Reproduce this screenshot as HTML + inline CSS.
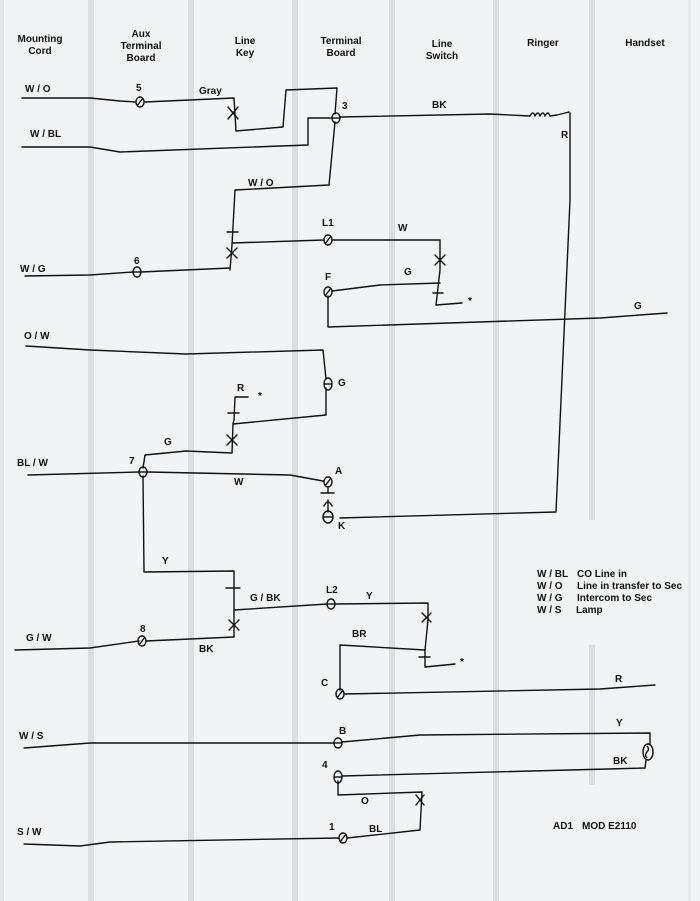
<!DOCTYPE html>
<html><head><meta charset="utf-8"><style>
html,body{margin:0;padding:0;background:#f1f3f4;}
svg{display:block}
text{font-family:"Liberation Sans",sans-serif;font-size:10px;font-weight:bold;fill:#111;}
.w{fill:none;stroke:#111;stroke-width:1.4;stroke-linejoin:round;stroke-linecap:round}
.t{fill:none;stroke:#111;stroke-width:1.4}
</style></head><body>
<svg width="700" height="901" viewBox="0 0 700 901" xmlns="http://www.w3.org/2000/svg">
<rect width="700" height="901" fill="#f1f3f4"/>
<rect x="0" y="0" width="4" height="901" fill="#e2e4e5"/>
<g fill="#dcdedf">
<rect x="88" y="0" width="6" height="901"/>
<rect x="188" y="0" width="6" height="901"/>
<rect x="292" y="0" width="6" height="901"/>
<rect x="389" y="0" width="6" height="901"/>
<rect x="493" y="0" width="6" height="901"/>
<rect x="589" y="0" width="6" height="520"/>
<rect x="589" y="645" width="6" height="140"/>
</g>
<rect x="688" y="0" width="3" height="901" fill="#e6e8e9"/>

<!-- headers -->
<g text-anchor="middle">
<text x="40" y="42">Mounting</text><text x="40" y="54">Cord</text>
<text x="141" y="37">Aux</text><text x="141" y="49">Terminal</text><text x="141" y="61">Board</text>
<text x="245" y="44">Line</text><text x="245" y="56">Key</text>
<text x="341" y="44">Terminal</text><text x="341" y="56">Board</text>
<text x="442" y="47">Line</text><text x="442" y="59">Switch</text>
<text x="543" y="46">Ringer</text>
<text x="645" y="46">Handset</text>
</g>

<!-- wire labels -->
<text x="25" y="92">W / O</text>
<text x="30" y="137">W / BL</text>
<text x="20" y="272">W / G</text>
<text x="24" y="339">O / W</text>
<text x="17" y="466">BL / W</text>
<text x="26" y="641">G / W</text>
<text x="19" y="739">W / S</text>
<text x="17" y="835">S / W</text>

<text x="136" y="91">5</text>
<text x="199" y="94">Gray</text>
<text x="342" y="109">3</text>
<text x="432" y="108">BK</text>
<text x="561" y="138">R</text>
<text x="248" y="186">W / O</text>
<text x="322" y="226">L1</text>
<text x="398" y="231">W</text>
<text x="134" y="264">6</text>
<text x="325" y="280">F</text>
<text x="404" y="275">G</text>
<text x="468" y="304">*</text>
<text x="634" y="309">G</text>
<text x="338" y="386">G</text>
<text x="237" y="391">R</text>
<text x="258" y="399">*</text>
<text x="164" y="445">G</text>
<text x="129" y="464">7</text>
<text x="335" y="474">A</text>
<text x="234" y="485">W</text>
<text x="338" y="529">K</text>
<text x="162" y="564">Y</text>
<text x="250" y="601">G / BK</text>
<text x="326" y="593">L2</text>
<text x="366" y="599">Y</text>
<text x="140" y="632">8</text>
<text x="199" y="652">BK</text>
<text x="352" y="637">BR</text>
<text x="460" y="665">*</text>
<text x="321" y="686">C</text>
<text x="615" y="682">R</text>
<text x="339" y="734">B</text>
<text x="616" y="726">Y</text>
<text x="613" y="764">BK</text>
<text x="322" y="768">4</text>
<text x="361" y="804">O</text>
<text x="329" y="830">1</text>
<text x="369" y="832">BL</text>

<!-- legend -->
<text x="537" y="577">W / BL</text><text x="577" y="577">CO Line in</text>
<text x="537" y="589">W / O</text><text x="577" y="589">Line in transfer to Sec</text>
<text x="537" y="601">W / G</text><text x="577" y="601">Intercom to Sec</text>
<text x="537" y="613">W / S</text><text x="576" y="613">Lamp</text>
<text x="553" y="829">AD1</text><text x="582" y="829">MOD E2110</text>

<!-- wires -->
<g class="w">
<polyline points="22,98 90,98 120,101 136,102"/>
<polyline points="145,102 234,98 236,131 283,127 286,90 337,88 335,114"/>
<polyline points="22,147 90,147 120,152 308,145 308,118 332,118"/>
<polyline points="340,117 490,114 530,116"/>
<path d="M530,116 q3,-6 5,0 q3,-6 5,0 q3,-6 5,0 q3,-6 5,0 l7,-1 l12,-3"/>
<polyline points="570,113 570,200 556,512 340,518"/>
<polyline points="335,122 329,185 235,190 232,245 230,270"/>
<polyline points="25,276 90,275 133,272"/>
<polyline points="141,272 230,268"/>
<polyline points="232,243 324,240"/>
<polyline points="332,240 440,240 440,270 436,305 462,303"/>
<polyline points="332,291 380,285 440,283"/>
<polyline points="328,296 328,327 600,318 667,313"/>
<polyline points="26,346 90,350 186,354 323,350 326,379"/>
<polyline points="326,388 326,415 233,424 232,453 186,451 145,455 143,468"/>
<polyline points="233,424 234,420 235,397 248,397"/>
<polyline points="28,475 139,472"/>
<polyline points="148,472 290,475 323,481"/>
<polyline points="143,476 144,572 234,571 234,637"/>
<polyline points="15,650 90,648 139,641"/>
<polyline points="146,641 234,637"/>
<polyline points="234,610 327,604"/>
<polyline points="335,604 428,603 428,620 425,650 425,667 455,664"/>
<polyline points="425,650 340,645 340,690"/>
<polyline points="344,694 600,689 655,685"/>
<polyline points="24,748 90,743 334,743"/>
<polyline points="342,742 420,735 650,733 650,745"/>
<polyline points="646,760 645,768 342,776"/>
<polyline points="338,781 338,795 422,792 420,830 347,838"/>
<polyline points="24,844 80,846 110,842 339,838"/>
<!-- switch marks -->
<line x1="228" y1="107" x2="238" y2="119"/><line x1="238" y1="107" x2="228" y2="119"/>
<line x1="227" y1="232" x2="238" y2="232"/>
<line x1="227" y1="248" x2="237" y2="258"/><line x1="237" y1="248" x2="227" y2="258"/>
<line x1="435" y1="255" x2="445" y2="265"/><line x1="445" y1="255" x2="435" y2="265"/>
<line x1="433" y1="293" x2="443" y2="293"/>
<line x1="228" y1="413" x2="239" y2="413"/>
<line x1="227" y1="435" x2="237" y2="445"/><line x1="237" y1="435" x2="227" y2="445"/>
<line x1="226" y1="588" x2="240" y2="588"/>
<line x1="229" y1="620" x2="239" y2="630"/><line x1="239" y1="620" x2="229" y2="630"/>
<line x1="422" y1="613" x2="431" y2="622"/><line x1="431" y1="613" x2="422" y2="622"/>
<line x1="419" y1="657" x2="430" y2="657"/>
<line x1="416" y1="795" x2="424" y2="805"/><line x1="424" y1="795" x2="416" y2="805"/>
<!-- capacitor between A and K -->
<line x1="328" y1="487" x2="328" y2="493"/>
<line x1="321" y1="493" x2="334" y2="493"/>
<path d="M324,506 q4,-8 8,0"/>
<line x1="328" y1="500" x2="328" y2="512"/>
</g>
<!-- terminals -->
<g class="t">
<ellipse cx="140" cy="102" rx="4" ry="5"/><line x1="137" y1="106" x2="143" y2="98"/>
<ellipse cx="336" cy="118" rx="4" ry="5"/><line x1="332" y1="118" x2="340" y2="118"/>
<ellipse cx="137" cy="272" rx="4" ry="5"/><line x1="133" y1="272" x2="141" y2="272"/>
<ellipse cx="328" cy="240" rx="4" ry="5"/><line x1="325" y1="244" x2="331" y2="236"/>
<ellipse cx="328" cy="292" rx="4" ry="5"/><line x1="325" y1="296" x2="331" y2="288"/>
<ellipse cx="328" cy="384" rx="4" ry="6"/><line x1="324" y1="384" x2="332" y2="384"/>
<ellipse cx="143" cy="472" rx="4" ry="5"/><line x1="139" y1="472" x2="147" y2="472"/>
<ellipse cx="328" cy="482" rx="4" ry="5"/><line x1="325" y1="486" x2="331" y2="478"/>
<ellipse cx="328" cy="517" rx="5" ry="6"/><line x1="323" y1="517" x2="333" y2="517"/>
<ellipse cx="142" cy="641" rx="4" ry="5"/><line x1="139" y1="645" x2="145" y2="637"/>
<ellipse cx="331" cy="604" rx="4" ry="5"/><line x1="327" y1="604" x2="335" y2="604"/>
<ellipse cx="340" cy="694" rx="4" ry="5"/><line x1="337" y1="698" x2="343" y2="690"/>
<ellipse cx="338" cy="743" rx="4" ry="5"/><line x1="334" y1="743" x2="342" y2="743"/>
<ellipse cx="338" cy="777" rx="4" ry="6"/><line x1="334" y1="777" x2="342" y2="777"/>
<ellipse cx="343" cy="838" rx="4" ry="5"/><line x1="340" y1="842" x2="346" y2="834"/>
<ellipse cx="648" cy="752" rx="5" ry="8"/><path d="M647,746 q3,3 0,6 q-3,3 0,6"/>
</g>
</svg>
</body></html>
